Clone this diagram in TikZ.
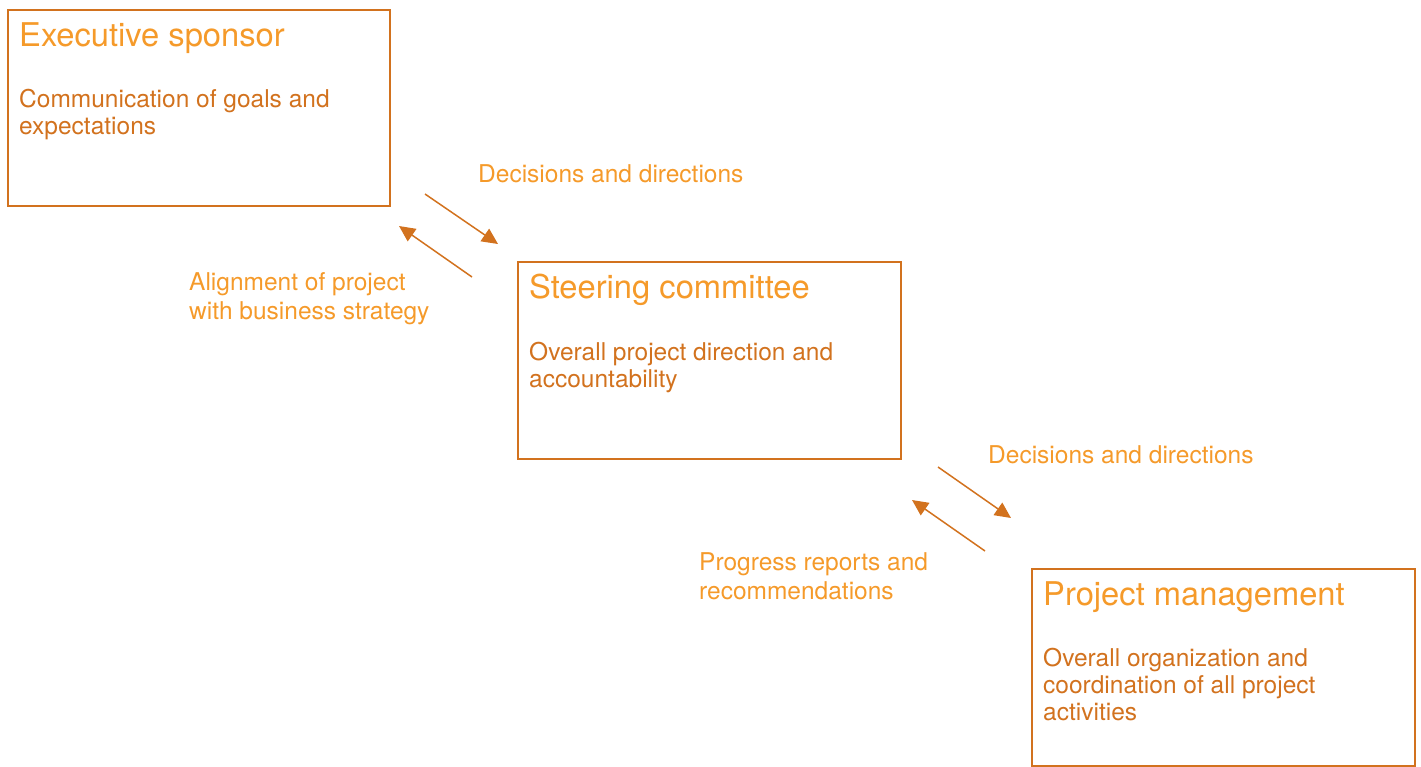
\documentclass[tikz,border=0pt]{standalone}
\usepackage{fontspec}
\setmainfont{TeX Gyre Heros}
\usetikzlibrary{arrows.meta}
\definecolor{lightorange}{HTML}{F59A2A}
\definecolor{darkorange}{HTML}{D2721E}
\begin{document}
\begin{tikzpicture}[x=1pt,y=-1pt,
  rolebox/.style={draw=darkorange,line width=1.8pt,inner sep=0pt,anchor=north west},
  roletitle/.style={inner sep=0pt,anchor=base west,text=lightorange,font=\fontsize{32.7}{36}\selectfont},
  roletext/.style={inner sep=0pt,anchor=base west,text=darkorange,align=left,font=\fontsize{24.5}{27}\selectfont},
  flowlabel/.style={inner sep=0pt,anchor=base west,text=lightorange,align=left,font=\fontsize{24.5}{28.5}\selectfont},
  flow/.style={draw=darkorange,line width=1.5pt,-{Triangle[length=16pt,width=15pt]}}]
\useasboundingbox (0,0) rectangle (1421,766);

% role boxes
\node[rolebox,minimum width=382pt,minimum height=196pt] (exec) at (7,9) {};
\node[rolebox,minimum width=383pt,minimum height=197pt] (steer) at (517,261) {};
\node[rolebox,minimum width=383pt,minimum height=197pt] (pm) at (1031,568) {};

% titles and descriptions (multi-line nodes sit on their last baseline)
\node[roletitle] (execT) at (19,46) {Executive sponsor};
\node[roletext] (execD) at (19,134) {Communication of goals and\\expectations};
\node[roletitle] (steerT) at (529,298) {Steering committee};
\node[roletext] (steerD) at (529,387) {Overall project direction and\\accountability};
\node[roletitle] (pmT) at (1043,605) {Project management};
\node[roletext] (pmD) at (1043,720) {Overall organization and\\coordination of all project\\activities};

% flows between levels
\coordinate (d1s) at (425,194); \coordinate (d1e) at (498,244);
\coordinate (u1s) at (472,277); \coordinate (u1e) at (399,226);
\coordinate (d2s) at (938,467); \coordinate (d2e) at (1011,518);
\coordinate (u2s) at (985,551); \coordinate (u2e) at (912,500);
\draw[flow] (d1s) -- (d1e);
\draw[flow] (u1s) -- (u1e);
\draw[flow] (d2s) -- (d2e);
\draw[flow] (u2s) -- (u2e);

\node[flowlabel] (l1) at (478,182) {Decisions and directions};
\node[flowlabel] (l2) at (189,319) {Alignment of project\\with business strategy};
\node[flowlabel] (l3) at (988,463) {Decisions and directions};
\node[flowlabel] (l4) at (699,599) {Progress reports and\\recommendations};
\end{tikzpicture}
\end{document}
